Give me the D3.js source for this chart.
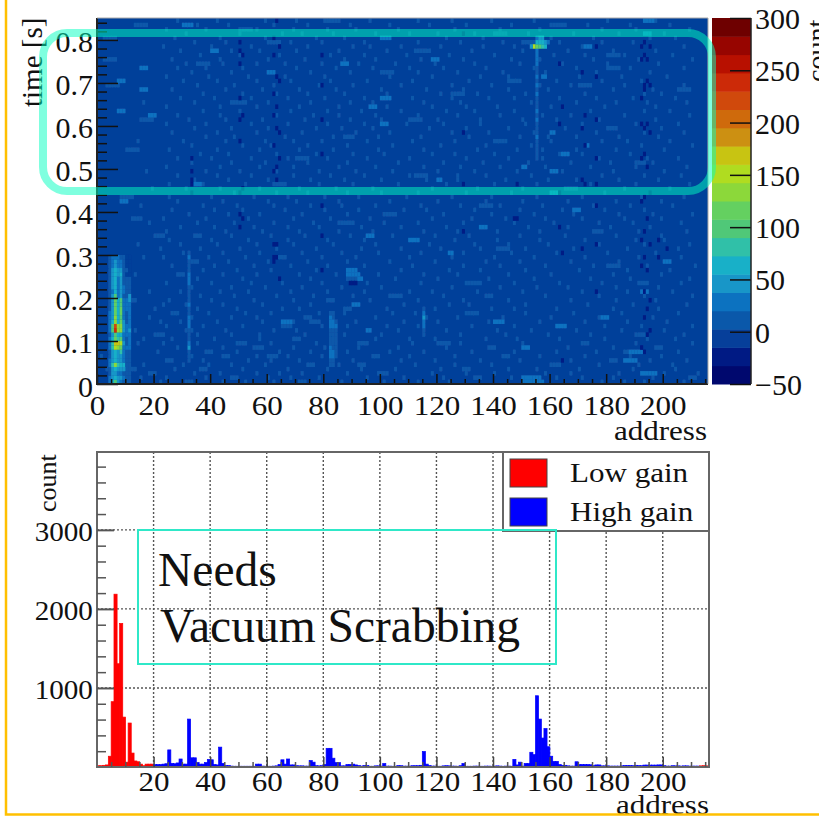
<!DOCTYPE html>
<html>
<head>
<meta charset="utf-8">
<script src="https://cdn.jsdelivr.net/npm/d3@7/dist/d3.min.js"></script>
<style>
  html, body { margin: 0; padding: 0; background: #fff; overflow: hidden; }
  svg { display: block; }
  text { font-family: "Liberation Serif", serif; fill: #111; }
</style>
</head>
<body>
<script>
// ---- data (the pale speckle is estimated by eye) ----
const addressTicks = d3.range(0, 201, 20);
const timeTicks = [0, 0.1, 0.2, 0.3, 0.4, 0.5, 0.6, 0.7, 0.8];
const zTicks = [-50, 0, 50, 100, 150, 200, 250, 300];
const countTicks = [1000, 2000, 3000];

const zColors = ["#00086e", "#001a84", "#063f9a", "#0a58aa", "#0c72c0", "#1896c8", "#18b0c8", "#30c0a8", "#50c878", "#64d060",
  "#8cd83a", "#b0dc20", "#c8c412", "#cc9012", "#cf6a0c", "#d0490c", "#cc2a08", "#b81000", "#970500", "#6e0000"];

// projection on address
const lowGain = [10, 10, 15, 20, 130, 820, 2180, 1300, 1810, 625, 55, 550, 170, 70, 60, 30, 10, 30, 30, 30];
const lowGainEnd = [8, 10, 8]; // addresses 213-215
const highGain = [
  25, 25, 25, 30, 35, 210, 40, 35, 45, 95,
  30, 30, 600, 110, 110, 50, 30, 30, 50, 90,
  85, 25, 20, 245, 40, 12, 12, 5, 3, 3,
  3, 3, 3, 3, 3, 3, 30, 30, 5, 3,
  3, 3, 5, 8, 25, 85, 30, 95, 20, 20,
  10, 8, 8, 5, 5, 75, 55, 10, 8, 10,
  25, 230, 230, 105, 50, 50, 8, 8, 25, 25,
  30, 20, 12, 5, 12, 12, 3, 3, 8, 8,
  5, 38, 5, 5, 3, 3, 12, 10, 5, 5,
  5, 10, 10, 10, 15, 190, 30, 12, 5, 5,
  3, 3, 8, 10, 8, 5, 5, 3, 10, 38,
  3, 3, 3, 5, 5, 3, 3, 5, 5, 3,
  5, 8, 5, 3, 5, 5, 3, 90, 20, 55,
  5, 38, 38, 180, 150, 895, 600, 360, 480, 250,
  130, 65, 65, 25, 15, 15, 8, 5, 5, 60,
  25, 25, 25, 25, 22, 10, 20, 20, 8, 8,
  8, 5, 5, 5, 5, 8, 12, 12, 12, 10,
  15, 12, 10, 18, 18, 18, 18, 18, 20, 20,
  10, 5, 5, 10, 8, 8, 5, 8, 8, 5,
  5, 5, 5];

// hot columns near the injection, rows 0-29 (one row = 0.01 s)
const col4 = [25,20,15,15,25,20,15,15,25,30,20,15,35,30,20,20,20,15,15,15,15,15,15,15,15,10,10,10,5,5];
const col5 = [70,50,45,45,75,50,45,45,75,85,55,50,95,90,55,50,50,45,45,45,40,35,40,45,45,40,40,25,25,20];
const col6 = [90,55,50,55,125,70,60,65,150,165,110,90,235,215,125,125,120,115,110,110,90,60,60,70,70,60,55,40,40,30];
const col7 = [40,45,30,40,80,45,40,45,140,165,80,60,140,125,70,60,60,55,55,55,30,25,30,30,30,50,50,30,25,20];
const col8 = [20,40,35,45,70,45,50,80,120,150,100,70,140,135,110,105,110,110,105,100,40,45,45,50,45,55,50,20,20,10];
const col9 = [10,20,15,45,60,25,30,30,35,40,35,30,50,45,40,30,35,35,30,30,15,20,25,15,15,15,10,10,5,5];
const col10 = [5,10,5,15,15,10,10,15,20,15,10,25,30,25,15,15,15,25,20,20,5,5,10,5,5,0,5,0,0,0];
const col11 = [5,5,5,10,10,10,15,15,30,30,25,30,40,35,30,30,30,35,35,40,40,5,5,5,5,0,0,0,0,0];

// [address, first row, values...]
const streaks = [
  [32, 5, 12,15,18,38,35,15,18,15,25,32,22,18,15,20,15,12,10,12,22,25,20,15,12,15,20,12],
  [155, 52, 15,15,10,12,15,22,15,12,18,22,15,22,18,15,12,22,15,28,15,22,15,18,30,20,22,25],
  [115, 12, 15,25,28,50,30,15],
  [82, 4, 15,12,20,28,22,18,12,10,15,22,28,22,18],
  [83, 4, 10,12,22,22,18,15,12,10,12,28,28,18,12],
  [84, 6, 15,15,10,5,5,10,15,22,18],
  [65, 14, 22], [66, 14, 30], [67, 14, 30], [68, 14, 22],
  [154, 78, 150], [155, 78, 110, 55, 35], [156, 78, 100, 60, 40], [157, 78, 85, 60, 40], [158, 78, 55, 50], [153, 78, 40],
  [159, 79, 25]
];

// darker cells: [address, rows...]
const darkCols = [
  [33, 44,46,47,49,52],
  [50, 36,39,44,56,61,66,74,77,79],
  [51, 38,45,62,76],
  [62, 28,29,32,49,55,62,67,76,80],
  [63, 29,32,47,50,59,64,71,84],
  [64, 24,52,58,70,78],
  [79, 26,34,41,53,61,69,76],
  [89, 23], [90, 23], [91, 23],
  [129, 35,46,58,81],
  [147, 38], [148, 38,46],
  [163, 36,44,60,74],
  [164, 5,30,64],
  [171, 31,47,59,72],
  [172, 46,55,62],
  [176, 21,32,41,46,52,61,71,78],
  [192, 8,27,33,42,52,60,66,75,78],
  [193, 7,15,21,29,35,43,53,59,68,69,76,79],
  [194, 11,17,26,38,50,60,70,75],
  [195, 12,19,32,44,58,69,78],
  [198, 29,33],
  [201, 31]
];

// pale cells and dashes per row, row 0 first
const paleRows = [
  "22 31-33 44 52 62 71-73 86 101 113 124 150-156 178 186 193 207",
  "15 24 38 47-49 60 68 78 95 108 122 133-135 146 162 171 182 196 209-211",
  "18-20 34 43 56 64 72 88 99-102 118 130 140 158 167 184 200 212",
  "3 27 36-38 51 67 81 93 105 121 129-131 145 155 170 189 204",
  "16 30 39 47 59 74-76 85 92-94 112 126 139 160-163 177 191 203",
  "24-26 37 53 61 71 90 107 119 135 149 167 181-183 195 208",
  "1 33 44-46 56 67 79 97-99 110 126 143-145 156 172 188 199",
  "21 38-40 49 64 75 88 103 115 132 147 162 176 186-189 205",
  "28 44 55-58 69 80 92 106 123 138-140 152 166 182 197-199",
  "14 23 35 49-52 61 77 92-95 111 128 150 171-173 190 210",
  "16 26 41 57 69-71 84 98 110 119 137 148 163 179 194 204",
  "20-23 35 47 57 73 87 100 115 128 144 159 174 191 207",
  "13 31-33 45 62 70 82 95 106 123 141 153 169 185 200",
  "24 37 51 65-68 79 88 102 113 132 147 164 179 192 210",
  "22 29 42 58 69 78 91 108 120 138 156 172 187 201",
  "18 33 47 56 73-75 83 98 116 127 143 160 177 196",
  "26-28 39 52 61 78 87 104 112 134 151 168 185 205",
  "20 35 49 65 71 87-89 102 119 139 147 162 182 198",
  "23 31 44 58 75 92 108 124 131 151 173 189 208",
  "25 40 55 69 81-83 96 113 129 145 167 183 197",
  "36 48 63 76 90 104 122 137-139 158 177 193 210",
  "18 29 43 53 68 81 94 110 118 134 150 171 187 203",
  "33 47 59 72 86 100 125 142 155 166 183 198",
  "24 40 54 65 79 95 114 131 147 163 178 191-194 206",
  "35 51 64 75 88-91 105 120 138 154 174 188 209",
  "13 28-30 44 56 71 84 99 115 127 145 160 182 199",
  "37 49 61 77 90 107 124 135 151 170 187 202",
  "26 41 55 68 81 94 111 129 142 158 175 194 211",
  "32-35 46 60 74 88 103 119 137 149 167 184 201",
  "16 23 39 52 66 79 91 110 125 140 154 172 191 206",
  "30 44 57 72 86 99 114 129 146 162 180 197",
  "22 36 50 63 77 93 107 121 135 151 168 187 205",
  "14 29 42 56 69 83 98 117 133 145 159 177 193 209",
  "25 40 53 67 81 94 111 126 141 156 172 190 200",
  "34-36 47 61 73 89 104 119 131 149 165 183 199",
  "24 45 58 71 85 97 115 127 141 156 175 191 208",
  "29 41 55 67 78 93 107 123 137 152 166 181 195",
  "18 35 48 62 76 90 101 113 129 147 161 177 189 206",
  "23 38 53 69 82 96 118 132 144 158 171 186 199",
  "32 46 57 72 88 101 122 139 154 168 184 196 210",
  "26 41 51 66 80 92 108 116 133 149 164 179 193",
  "15 37 49 62 75 86 98 114 128 142 157 175 188 203",
  "28 44 60 70 85 103 120 137 150 166 183 199",
  "25 40 55 67 80 92 109 125 139 155 171 192 207",
  "33 48 63 74 88 100 113 130 146 161 179 195",
  "19 31 43 57 71 84 97 118 134 150 167 186 202",
  "25 37 52 65 78 90 106 123 140 155 174 190 209",
  "34 46 60 75 87 100 116 127 144 159 169 184 198",
  "28 42 54 69 82 94 110 127 137 153 178 193 206",
  "17 38 50 63 78 91 104 120 133 148 164 182 200",
  "24 43 57 69 85 98 115 128 142 158 174 190 208",
  "33 47 59 74 88 106 122 136 152 167 181 196",
  "28 40 54 67 81 95 110 130 145 157 177 194 205",
  "36 46 63 77 90 101 118 126 140 163 171 188",
  "25 42 57 71 83 99 115 134 148 157 169 183 200",
  "33 51 61 74 88 104 121 137 153 173 192 210",
  "14 30 45 59 69 79 95 111 126 144 160 178 187 202",
  "38 48 66 83 99 114 131 149 159 169 184 198",
  "26 42 56 72 91 103 125 138 154 176 193 207",
  "34 47 60 77 86 97 117 130 145 165 181 199",
  "24 38 54 67 81 94 109 122 135 151 171 190 205",
  "32 45 58 73 89 100 120 135 150 162 177 197",
  "28 43 63 76 85 98 113 127 142 157 167 186 209",
  "37 50 68 81 93 107 123 133 147 174 193 202",
  "24 43 56 71 85 102 118 130 141 160 179 197",
  "16 34 47 60 75 89 97 115 128 153 169 183 194 208",
  "29 41 54 67 80 94 111 125 138 147 163 176 189 204",
  "37 51 63 74 87 102 121 134 151 172 193 199",
  "26 45 58 71 84 100 116 129 145 159 182 196",
  "35 48 62 78 90 107 125 139 156 167 186 207",
  "30 42 56 68 82 95 111 131 149 162 178 192",
  "24 39 53 66 80 103 118 135 145 170 185 201",
  "33 47 60 75 89 100 113 127 143 158 176 195",
  "28 38 51 70 84 97 110 122 137 154 169 188 207",
  "31 44 56 66 79 92 105 119 133 149 164 180 198",
  "26 43 60 73 87 98 114 129 146 156 175 191 210",
  "36 50 64 82 94 109 124 140 161 172 186 203",
  "29 47 57 70 85 102 117 132 150 166 182 197",
  "23 40 54 74 90 96 107 121 136 147 171 192 207",
  "34 45 61 68 79 94 113 128 143 163 178 189",
  "27 43 59 77 87 101 123 136 160 175 195 204",
  "31 50 65 72 83 98 110 120 133 152 168 184 200",
  "24 38 56 69 81 91 106 126 142 156 178 190 209",
  "35 46 62 74 89 103 117 130 146 165 173 188 202",
  "28 42 59 70 85 96 113 125 139 154 180 197"
];

// longer dashes and a bit brighter: [row, from, to]
const brightCells = [
  [0,150,157],[1,150,156],[2,192,197],[5,186,190],[7,188,192],[8,150,152],[12,95,96],[13,162,165],[14,140,143],[15,178,180],
  [18,90,92],[21,192,194],[24,92,93],[25,88,92],[26,88,91],[28,200,202],[30,124,125],[33,110,113],[34,95,97],[36,135,137],
  [40,168,170],[42,8,10],[44,160,162],[46,34,36],[47,120,121],[49,160,162],[50,150,151],[53,164,166],[55,172,173],[58,160,161],
  [60,100,102],[62,18,20],[63,7,9],[64,96,98],[66,100,103],[68,15,17],[70,7,9],[71,157,158],[73,15,17],[72,60,62],
  [74,86,88],[75,118,120],[77,40,42],[78,172,174],[80,100,103],[81,193,195],[83,30,33],[84,193,196]
];
// pale dashes between: [row, from, to]
const paleDashes = [
  [3,10,13],[6,60,63],[9,120,124],[11,190,193],[14,75,78],[16,130,133],[19,10,13],[20,103,107],[23,130,135],[27,180,184],
  [29,62,66],[31,141,145],[34,20,23],[35,175,178],[37,85,89],[38,12,15],[39,102,105],[41,135,139],[43,8,12],[45,165,169],
  [46,62,66],[48,112,116],[51,190,193],[52,70,74],[54,10,14],[56,140,144],[57,87,90],[59,180,183],[61,15,19],[61,110,114],
  [65,48,52],[67,125,129],[69,3,7],[69,170,174],[70,145,149],[72,100,104],[74,35,39],[76,180,184],[77,112,116],[79,60,64],
  [80,2,6],[81,140,144],[82,50,54],[83,13,17],[83,160,164],[84,80,84],[79,150,154],[75,2,6],[73,180,184],[68,205,209]
];

// ---- layout ----
const width = 819, height = 817;
const STRETCH = 1.15; // the picture is stretched sideways

const svg = d3.select("body").append("svg")
  .attr("width", width).attr("height", height);

const x = d3.scaleLinear().domain([0, 216]).range([97, 708]);
const yTime = d3.scaleLinear().domain([0, 0.851]).range([384, 18]);
const yZ = d3.scaleLinear().domain([-50, 300]).range([384, 18]);
const yCount = d3.scaleLinear().domain([0, 3985]).range([767, 452]);
const zColor = d3.scaleQuantize().domain([-50, 300]).range(zColors);

// ---- heat map cells ----
const cellMap = new Map();
const setCell = (a, r, v) => cellMap.set(a + "_" + r, { a, r, v });

paleRows.forEach((s, r) => {
  s.split(" ").forEach(seg => {
    const [from, to] = seg.split("-").map(Number);
    for (let a = from; a <= (to === undefined ? from : to); a++) setCell(a, r, 10);
  });
});
paleDashes.forEach(([r, from, to]) => {
  for (let a = from; a <= to; a++) setCell(a, r, 10);
});
brightCells.forEach(([r, from, to]) => {
  for (let a = from; a <= to; a++) setCell(a, r, 30);
});
darkCols.forEach(([a, ...rows]) => rows.forEach(r => setCell(a, r, -25)));
[[4, col4], [5, col5], [6, col6], [7, col7], [8, col8], [9, col9], [10, col10], [11, col11]].forEach(([a, vals]) => {
  vals.forEach((v, r) => setCell(a, r, v));
});
streaks.forEach(([a, first, ...vals]) => vals.forEach((v, i) => setCell(a, first + i, v)));

const defs = svg.append("defs");
defs.append("filter").attr("id", "soft")
  .attr("x", 0).attr("y", 0).attr("width", 1).attr("height", 1)
  .append("feGaussianBlur").attr("stdDeviation", 0.7);
defs.append("filter").attr("id", "softBars")
  .append("feGaussianBlur").attr("stdDeviation", 0.4);

const heat = svg.append("g").attr("filter", "url(#soft)");
heat.append("rect")
  .attr("x", x(0)).attr("y", yTime.range()[1])
  .attr("width", x(216) - x(0)).attr("height", 384 - 18)
  .attr("fill", zColor(0));
heat.selectAll("rect.cell")
  .data(Array.from(cellMap.values()))
  .join("rect")
  .attr("class", "cell")
  .attr("x", d => x(d.a))
  .attr("y", d => yTime((d.r + 1) * 0.01))
  .attr("width", x(1) - x(0) + 0.2)
  .attr("height", yTime(0) - yTime(0.01) + 0.2)
  .attr("fill", d => zColor(d.v));

function styleAxis(g, color, w) {
  g.select(".domain").remove();
  g.selectAll("line").attr("stroke", color).attr("stroke-width", w);
  g.selectAll("text").attr("fill", "#111");
}

// top chart axes
const minorAddr = d3.range(0, 216, 5).filter(d => d % 20 !== 0);
svg.append("g").attr("transform", "translate(0,384)")
  .call(d3.axisBottom(x).tickValues(minorAddr).tickSize(-5).tickFormat(""))
  .call(styleAxis, "#111", 1.5);
svg.append("g").attr("transform", "translate(0,384)")
  .call(d3.axisBottom(x).tickValues(addressTicks).tickSize(-10).tickPadding(20))
  .call(styleAxis, "#111", 1.5)
  .call(g => g.selectAll("text")
    .attr("font-size", 27).attr("transform", `scale(${STRETCH},1)`).attr("dy", "0.42em"));

const minorTime = d3.range(0, 85, 2).map(d => d / 100).filter(d => Math.round(d * 100) % 10 !== 0);
svg.append("g").attr("transform", "translate(97,0)")
  .call(d3.axisLeft(yTime).tickValues(minorTime).tickSize(-10).tickFormat(""))
  .call(styleAxis, "#111", 1.5);
svg.append("g").attr("transform", "translate(97,0)")
  .call(d3.axisLeft(yTime).tickValues(timeTicks).tickSize(-21).tickPadding(4)
    .tickFormat(d => d === 0 ? "0" : d3.format(".1f")(d)))
  .call(styleAxis, "#111", 1.5)
  .call(g => g.selectAll("text").attr("font-size", 30).attr("dy", "0.4em"));

svg.append("path")
  .attr("d", `M97,18V384H708`).attr("fill", "none").attr("stroke", "#222").attr("stroke-width", 2);
svg.append("path")
  .attr("d", `M97,18H708V384`).attr("fill", "none").attr("stroke", "#aaa").attr("stroke-width", 1);

svg.append("text").attr("transform", "translate(42,107) rotate(-90)")
  .attr("font-size", 29).text("time [s]");
svg.append("text").attr("transform", `translate(707,440) scale(${STRETCH},1)`)
  .attr("text-anchor", "end").attr("font-size", 27).text("address");

// colour bar
svg.append("g").selectAll("rect")
  .data(zColors)
  .join("rect")
  .attr("x", 712).attr("width", 39)
  .attr("y", (d, i) => yZ(-50 + (i + 1) * 17.5))
  .attr("height", yZ(0) - yZ(17.5) + 0.5)
  .attr("fill", d => d);
svg.append("g").attr("transform", "translate(751,0)")
  .call(d3.axisRight(yZ).tickValues(zTicks).tickSize(0).tickPadding(4)
    .tickFormat(d => d < 0 ? "\u2212" + Math.abs(d) : d))
  .call(g => g.select(".domain").remove())
  .call(g => g.selectAll("text").attr("font-size", 30).attr("fill", "#111").attr("dy", "0.35em"));
svg.append("g").attr("transform", "translate(751,0)")
  .call(d3.axisLeft(yZ).tickValues(zTicks).tickSize(21).tickFormat(""))
  .call(styleAxis, "#111", 1.5);
svg.append("line").attr("x1", 751).attr("x2", 751).attr("y1", 18).attr("y2", 384)
  .attr("stroke", "#222").attr("stroke-width", 1.5);
svg.append("text").attr("transform", "translate(826,82) rotate(-90)")
  .attr("font-size", 28).text("count");

// highlight round the late window
svg.append("rect")
  .attr("x", 43).attr("y", 33).attr("width", 669).attr("height", 158).attr("rx", 24)
  .attr("fill", "none").attr("stroke", "#00ffc0").attr("stroke-opacity", 0.5).attr("stroke-width", 8);

// ---- bottom chart ----
const bars = [];
lowGain.forEach((v, i) => bars.push({ a: i, v, c: "#ff0000" }));
highGain.forEach((v, i) => bars.push({ a: i + 20, v, c: "#0000ff" }));
lowGainEnd.forEach((v, i) => bars.push({ a: i + 213, v, c: "#ff0000" }));

const grid = svg.append("g").attr("stroke", "#555").attr("stroke-width", 1.4).attr("stroke-dasharray", "2,2");
grid.selectAll("line.gx").data(addressTicks.filter(d => d > 0)).join("line")
  .attr("x1", d => x(d)).attr("x2", d => x(d)).attr("y1", 452).attr("y2", 767);
grid.selectAll("line.gy").data(countTicks).join("line").attr("class", "gy")
  .attr("x1", 97).attr("x2", 709).attr("y1", d => yCount(d)).attr("y2", d => yCount(d));

svg.append("g").attr("filter", "url(#softBars)").selectAll("rect")
  .data(bars)
  .join("rect")
  .attr("x", d => x(d.a))
  .attr("width", x(1) - x(0) + 0.3)
  .attr("y", d => yCount(d.v) - 0.5)
  .attr("height", d => yCount(0) - yCount(d.v) + 0.5)
  .attr("fill", d => d.c)
  .attr("stroke", d => d.c)
  .attr("stroke-width", 0.7);

svg.append("rect").attr("x", 97).attr("y", 452).attr("width", 612).attr("height", 315)
  .attr("fill", "none").attr("stroke", "#666").attr("stroke-width", 2);

svg.append("g").attr("transform", "translate(0,767)")
  .call(d3.axisBottom(x).tickValues(minorAddr).tickSize(-5).tickFormat(""))
  .call(styleAxis, "#555", 1.5);
svg.append("g").attr("transform", "translate(0,767)")
  .call(d3.axisBottom(x).tickValues(addressTicks.filter(d => d > 0)).tickSize(-10).tickPadding(13))
  .call(styleAxis, "#444", 1.5)
  .call(g => g.selectAll("text")
    .attr("font-size", 27).attr("transform", `scale(${STRETCH},1)`).attr("dy", "0.42em"));

const minorCount = d3.range(200, 3985, 200).filter(d => d % 1000 !== 0);
svg.append("g").attr("transform", "translate(97,0)")
  .call(d3.axisLeft(yCount).tickValues(minorCount).tickSize(-9).tickFormat(""))
  .call(styleAxis, "#555", 1.5);
svg.append("g").attr("transform", "translate(97,0)")
  .call(d3.axisLeft(yCount).tickValues(countTicks).tickSize(-17).tickPadding(4).tickFormat(d3.format("d")))
  .call(styleAxis, "#555", 2)
  .call(g => g.selectAll("text").attr("font-size", 28).attr("dy", "0.37em")
    .attr("transform", "scale(1.04,1)"));

svg.append("text").attr("transform", "translate(56,512) rotate(-90)")
  .attr("font-size", 26).text("count");
svg.append("text").attr("transform", `translate(709,814) scale(${STRETCH},1)`)
  .attr("text-anchor", "end").attr("font-size", 27).text("address");

// legend
svg.append("rect").attr("x", 503).attr("y", 452).attr("width", 206).attr("height", 79)
  .attr("fill", "#fff").attr("stroke", "#666").attr("stroke-width", 2);
const legendItems = [["Low gain", "#ff0000", 459, 482], ["High gain", "#0000ff", 498, 521]];
legendItems.forEach(([name, c, top, base]) => {
  svg.append("rect").attr("x", 510).attr("y", top).attr("width", 37).attr("height", 28)
    .attr("fill", c).attr("stroke", "#444").attr("stroke-width", 1);
  svg.append("text").attr("transform", `translate(570,${base}) scale(${STRETCH},1)`)
    .attr("font-size", 27).text(name);
});

// note box
svg.append("rect").attr("x", 138).attr("y", 530).attr("width", 418).attr("height", 134)
  .attr("fill", "none").attr("stroke", "#2fe8c8").attr("stroke-width", 2);
svg.append("text").attr("x", 158).attr("y", 586).attr("font-size", 47.5)
  .attr("fill", "#000").text("Needs");
svg.append("text").attr("x", 160).attr("y", 642).attr("font-size", 47.5)
  .attr("fill", "#000").text("Vacuum Scrabbing");

// slide border
svg.append("path").attr("d", "M6,0V814.5H819")
  .attr("fill", "none").attr("stroke", "#ffc000").attr("stroke-width", 2.5);
</script>
</body>
</html>
